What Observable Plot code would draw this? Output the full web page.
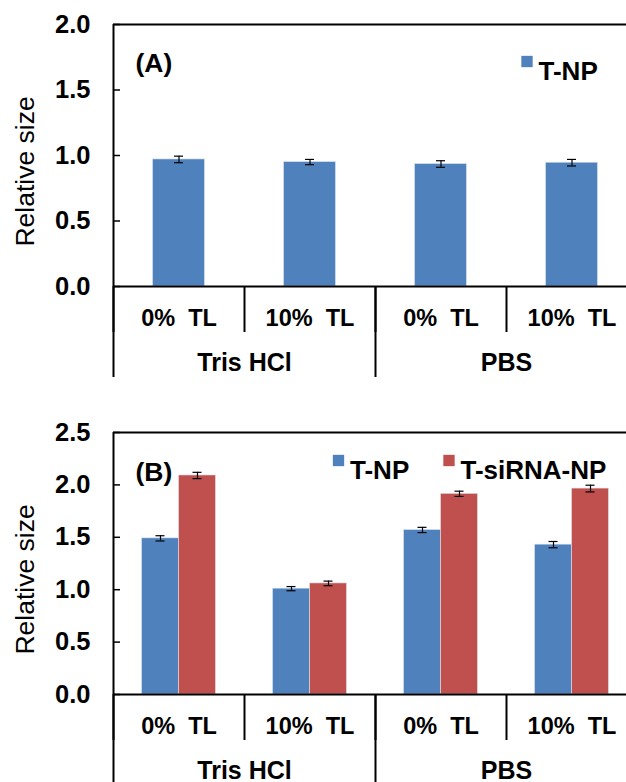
<!DOCTYPE html>
<html>
<head>
<meta charset="utf-8">
<script src="https://cdn.jsdelivr.net/npm/d3@7"></script>
<script src="https://cdn.jsdelivr.net/npm/@observablehq/plot@0.6"></script>
<style>
  html, body { margin: 0; padding: 0; background: #fff; overflow: hidden; }
  #chart svg { display: block; }
</style>
</head>
<body>
<div id="chart"></div>
<script>
// ---------- data ----------
const buffers = ["Tris HCl", "PBS"];
const tlLevels = ["0%  TL", "10%  TL"];
const seriesNames = ["T-NP", "T-siRNA-NP"];
const seriesColors = ["#4F81BD", "#C0504D"];
const panelTags = ["(A)", "(B)"];
const yLabel = "Relative size";
const yTicksA = [0, 0.5, 1.0, 1.5, 2.0];
const yTicksB = [0, 0.5, 1.0, 1.5, 2.0, 2.5];

// Panel A: T-NP only
const aTNP = [0.97, 0.95, 0.935, 0.945];
const aTNPErr = [0.025, 0.02, 0.025, 0.025];
// Panel B
const bTNP = [1.49, 1.01, 1.57, 1.43];
const bTNPErr = [0.025, 0.02, 0.025, 0.03];
const bSiRNA = [2.09, 1.06, 1.915, 1.965];
const bSiRNAErr = [0.03, 0.022, 0.025, 0.032];

// ---------- derived ----------
const keyOf = (b, t) => `${b} | ${t}`;
const conditions = buffers.flatMap(b => tlLevels.map(t => ({key: keyOf(b, t), buffer: b, tl: t})));
const keys = conditions.map(c => c.key);
const groupStarts = buffers.map(b => ({key: keyOf(b, tlLevels[0]), buffer: b}));
const rows = (values, errors, s) => keys.map((k, i) => ({key: k, series: s, value: values[i], err: errors[i]}));

const dataA = rows(aTNP, aTNPErr, seriesNames[0]);
const dataB = [...rows(bTNP, bTNPErr, seriesNames[0]), ...rows(bSiRNA, bSiRNAErr, seriesNames[1])];

// ---------- layout ----------
const W = 626, H = 391, ML = 113, XR = 637;
const step = (XR - ML) / keys.length;
const FONT = "'Liberation Sans', Arial, Helvetica, sans-serif";

function panel({data, series, yTicks, mt, mb, drop, tag, tagDy, legend, barW}) {
  const yMax = yTicks[yTicks.length - 1];
  const n = series.length;
  const marks = [];
  series.forEach((s, j) => {
    const d = data.filter(r => r.series === s);
    const left = (step - n * barW) / 2 + j * barW;
    const right = step - left - barW;
    const off = left + barW / 2 - step / 2;
    marks.push(Plot.barY(d, {x: "key", y: "value", fill: "series", insetLeft: left, insetRight: right, stroke: "#dfe6f0", strokeWidth: 0.6}));
    marks.push(Plot.ruleX(d, {x: "key", y1: r => r.value - r.err, y2: r => r.value + r.err, dx: off, stroke: "black", strokeWidth: 1.2}));
    marks.push(Plot.tickY(d, {x: "key", y: r => r.value + r.err, dx: off, insetLeft: step / 2 - 4.5, insetRight: step / 2 - 4.5, stroke: "black", strokeWidth: 1.2}));
    marks.push(Plot.tickY(d, {x: "key", y: r => r.value - r.err, dx: off, insetLeft: step / 2 - 4.5, insetRight: step / 2 - 4.5, stroke: "black", strokeWidth: 1.2}));
  });

  // frame lines
  marks.push(Plot.ruleY([yMax], {stroke: "black", strokeWidth: 2}));
  marks.push(Plot.ruleY([0], {stroke: "black", strokeWidth: 2}));
  marks.push(Plot.ruleX([keys[0]], {x: d => d, dx: -step / 2, y1: 0, y2: yMax, stroke: "black", strokeWidth: 2}));
  // inward y ticks
  marks.push(Plot.tickY(yTicks, {y: d => d, x: () => keys[0], insetRight: step - 7, stroke: "black", strokeWidth: 1.5}));
  // y tick labels
  marks.push(Plot.axisY(yTicks, {tickSize: 0, tickPadding: 23, tickFormat: d3.format(".1f"), fontSize: 25.5, fontWeight: "bold", label: null}));
  // y label
  marks.push(Plot.text([yLabel], {frameAnchor: "left", textAnchor: "middle", rotate: -90, dx: -88, dy: 16, fontSize: 26.5, fontWeight: "normal", fill: "black"}));

  // hierarchical x axis
  marks.push(Plot.ruleX(conditions, {x: "key", y1: 0, y2: 0, dx: -step / 2, insetBottom: -46, stroke: "black", strokeWidth: 2}));
  marks.push(Plot.ruleX(groupStarts, {x: "key", y1: 0, y2: 0, dx: -step / 2, insetBottom: -drop, stroke: "black", strokeWidth: 2}));
  marks.push(Plot.text(conditions, {x: "key", y: 0, dy: 32, text: "tl", fontSize: 23.5, fontWeight: "bold", fill: "black"}));
  marks.push(Plot.text(groupStarts, {x: "key", y: 0, dx: step / 2, dy: 76, text: "buffer", fontSize: 25, fontWeight: "bold", fill: "black"}));

  // panel tag
  marks.push(Plot.text([tag], {frameAnchor: "top-left", dx: 22, dy: tagDy, textAnchor: "start", fontSize: 26.5, fontWeight: "bold", fill: "black"}));

  // legend
  legend.forEach(({s, dx, dy}) => {
    marks.push(Plot.dot([s], {frameAnchor: "top-left", dx, dy, symbol: "square", r: 6.4, fill: d => d}));
    marks.push(Plot.text([s], {frameAnchor: "top-left", dx: dx + 11.5, dy, textAnchor: "start", fontSize: 26, fontWeight: "bold", fill: "black"}));
  });

  return Plot.plot({
    width: W,
    height: H,
    marginLeft: ML,
    marginRight: 0,
    marginTop: mt,
    marginBottom: mb,
    style: {fontFamily: FONT, fontSize: "24px", fontWeight: "bold", color: "black", background: "white", overflow: "hidden"},
    x: {domain: keys, range: [ML, XR], padding: 0, axis: null},
    y: {domain: [0, yMax], ticks: yTicks},
    color: {domain: seriesNames, range: seriesColors},
    marks
  });
}

const chart = document.getElementById("chart");
chart.append(panel({
  data: dataA, series: [seriesNames[0]], yTicks: yTicksA,
  mt: 24, mb: 105, drop: 91, tag: panelTags[0], tagDy: 29,
  legend: [{s: seriesNames[0], dx: 413.5, dy: 37}],
  barW: 52
}));
chart.append(panel({
  data: dataB, series: seriesNames, yTicks: yTicksB,
  mt: 41, mb: 88, drop: 88, tag: panelTags[1], tagDy: 30,
  legend: [{s: seriesNames[0], dx: 225, dy: 28}, {s: seriesNames[1], dx: 335.5, dy: 28}],
  barW: 37
}));
</script>
</body>
</html>
